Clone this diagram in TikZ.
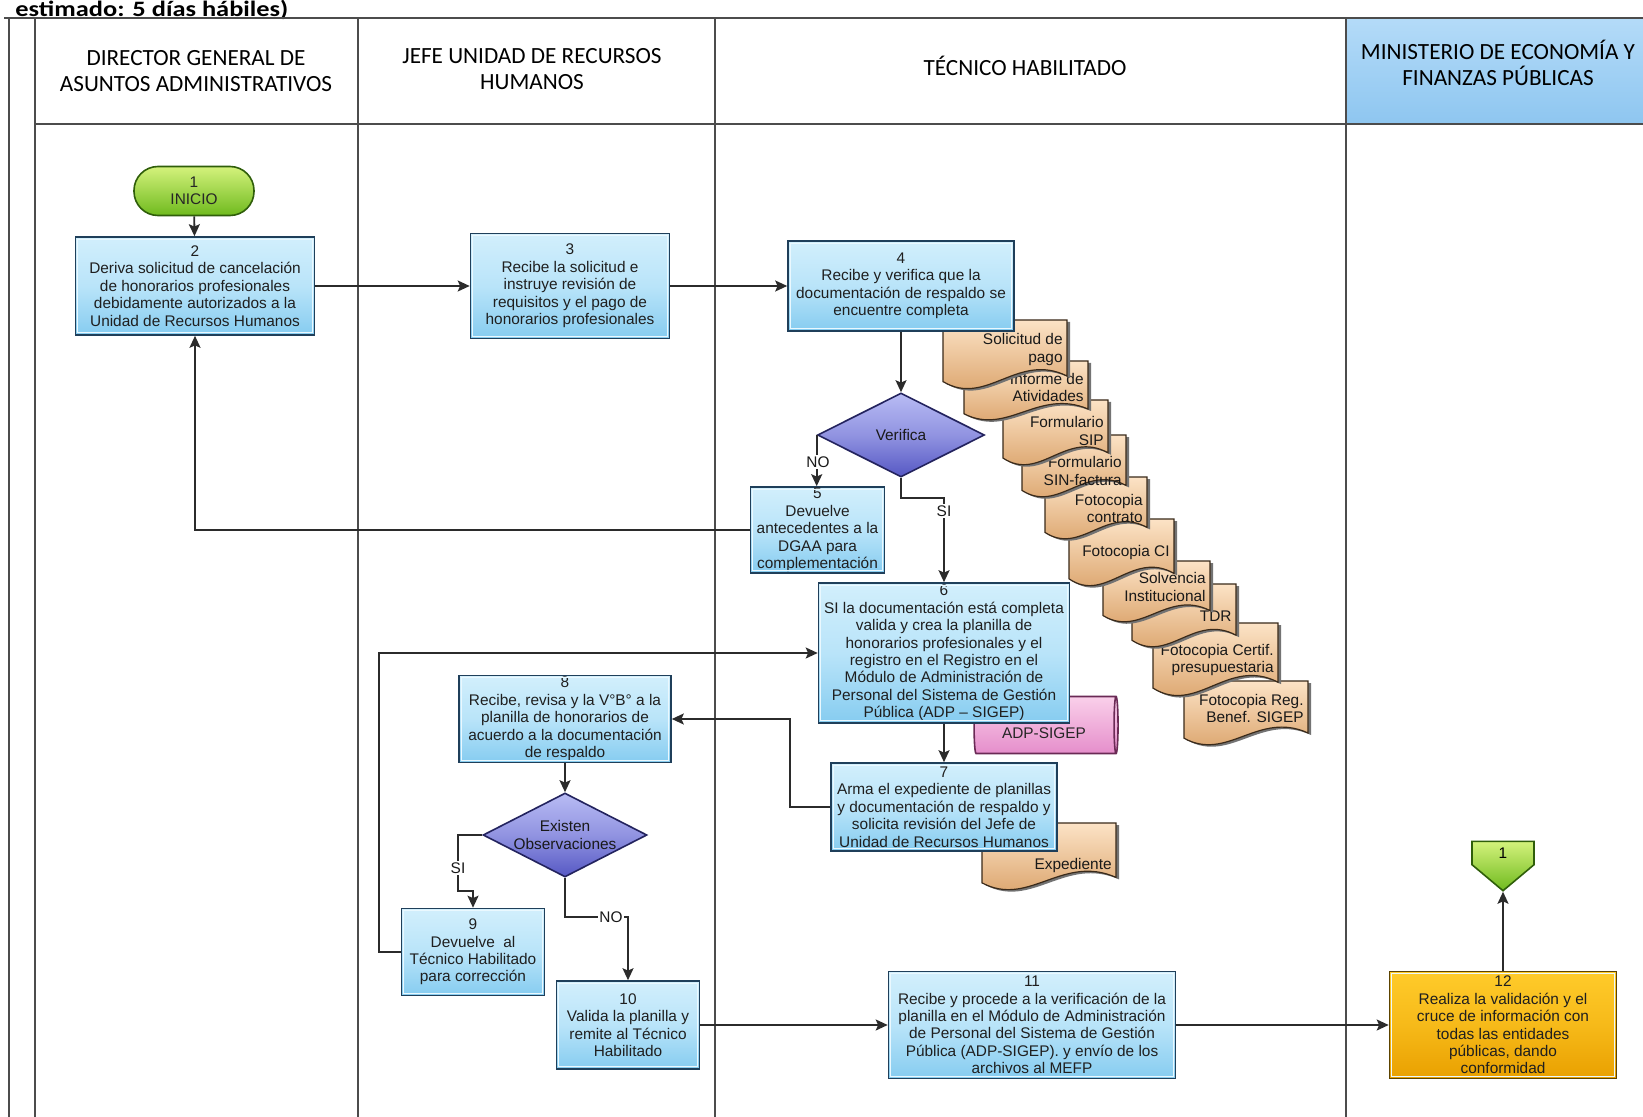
\documentclass[tikz,border=0pt]{standalone}
\usepackage{fontspec}
\setmainfont{Liberation Sans}
\newfontfamily\hdrfont{Carlito}
\newfontfamily\titlefont[FakeStretch=1.2]{Carlito}
\usetikzlibrary{shapes.geometric,shapes.symbols,arrows.meta}

\definecolor{boxtop}{HTML}{D2EFFC}
\definecolor{boxmid}{HTML}{B9E4F9}
\definecolor{boxbot}{HTML}{86CCF0}
\definecolor{boxedge}{HTML}{1F3F5A}
\definecolor{boxhi}{HTML}{EAF8FE}
\definecolor{dectop}{HTML}{B8BBF4}
\definecolor{decbot}{HTML}{5658C4}
\definecolor{decedge}{HTML}{23235E}
\definecolor{grntop}{HTML}{D4F27C}
\definecolor{grnbot}{HTML}{6FBA1E}
\definecolor{grnedge}{HTML}{2F5E0A}
\definecolor{ortop}{HTML}{FFCB2A}
\definecolor{orbot}{HTML}{E9A000}
\definecolor{oredge}{HTML}{5C4300}
\definecolor{doctop}{HTML}{FCE3C6}
\definecolor{docbot}{HTML}{D69A5E}
\definecolor{docedge}{HTML}{3A2A1A}
\definecolor{pinktop}{HTML}{FAD0EA}
\definecolor{pinkbot}{HTML}{E58ECB}
\definecolor{pinkedge}{HTML}{6A2A55}
\definecolor{hdrtop}{HTML}{B4DBF8}
\definecolor{hdrbot}{HTML}{8EC6F0}
\definecolor{lineclr}{HTML}{2B2B2B}

\newcommand\boxfont{\fontsize{7.7}{8.7}\selectfont}

% document sheet with a wavy lower edge:
% name, x1, y1, x2, y2, text, height fraction of the text line
\newcommand\docsheet[7]{%
  \pgfmathsetmacro\dw{#4-#2}\pgfmathsetmacro\dh{#5-#3}%
  \path[docshadow] (#2+3,#3+2) -- (#4+3,#3+2) -- (#4+3,#5-0.2*\dh+2)
    .. controls (#2+0.6*\dw+3,#5-0.55*\dh+2) and (#2+0.35*\dw+3,#5+0.25*\dh+2) ..
    (#2+3,#5-0.12*\dh+2) -- cycle;
  \path[docbody] (#2,#3) -- (#4,#3) -- (#4,#5-0.2*\dh)
    .. controls (#2+0.6*\dw,#5-0.55*\dh) and (#2+0.35*\dw,#5+0.25*\dh) ..
    (#2,#5-0.12*\dh) -- cycle;
  \node[doctext] (#1) at (#4-3,#3+#7*\dh) {#6};
}

\begin{document}
\begin{tikzpicture}[x=0.5pt,y=-0.5pt,
  lane/.style={draw=black!70, line width=0.55pt},
  hdr/.style={align=center, font=\hdrfont\fontsize{11.6}{13}\selectfont, inner sep=0pt},
  proc/.style={rectangle, draw=boxedge, line width=0.8pt, top color=boxtop,
    bottom color=boxbot, middle color=boxmid, align=center, font=\boxfont,
    inner xsep=1pt, inner ysep=0.5pt, text=black!88},
  endproc/.style={proc, top color=ortop, bottom color=orbot, middle color=ortop!60!orbot, draw=oredge},
  decision/.style={diamond, aspect=2, draw=decedge, line width=0.8pt, top color=dectop,
    bottom color=decbot, middle color=dectop!60!decbot, align=center, font=\boxfont,
    inner sep=0pt, text=black!90},
  terminal/.style={rectangle, rounded corners=12pt, draw=grnedge, line width=0.8pt,
    top color=grntop, bottom color=grnbot, align=center, font=\boxfont, inner sep=0pt, text=black!85},
  offpage/.style={signal, signal to=south, signal pointer angle=100, draw=grnedge,
    line width=0.8pt, top color=grntop, bottom color=grnbot, font=\boxfont, inner sep=0pt},
  database/.style={cylinder, shape border rotate=0, aspect=0.3, draw=pinkedge,
    line width=0.8pt, top color=pinktop, bottom color=pinkbot},
  docbody/.style={draw=docedge, line width=0.6pt, top color=doctop, bottom color=docbot},
  docshadow/.style={fill=black!55},
  doctext/.style={anchor=east, align=right, font=\boxfont, inner sep=0.5pt, text=black!90},
  bevel/.style={draw=boxhi, line width=0.5pt},
  arr/.style={draw=lineclr, line width=0.9pt, -{Stealth[length=6pt,width=5.5pt,inset=1.2pt]}},
  lbl/.style={fill=white, inner sep=0.8pt, font=\boxfont, text=black!90}]

\useasboundingbox (0,0) rectangle (1643,1117);
\fill[white] (0,0) rectangle (1643,1117);

% title line above the frame
\node[anchor=base west, inner sep=0pt, font=\titlefont\bfseries\fontsize{11}{13}\selectfont]
  (ttl) at (15,17) {estimado: 5 días hábiles)};

% swimlane grid
\path[top color=hdrtop, bottom color=hdrbot] (1346,18) rectangle (1643,124);
\draw[lane] (4,18) -- (1643,18);
\draw[lane] (9,18) -- (9,1117);
\draw[lane] (35,18) -- (35,1117);
\draw[lane] (35,124) -- (1643,124);
\foreach \x in {358,715,1346} \draw[lane] (\x,18) -- (\x,1117);

\node[hdr] (h1) at (196,71) {DIRECTOR GENERAL DE\\ASUNTOS ADMINISTRATIVOS};
\node[hdr] (h2) at (532,69) {JEFE UNIDAD DE RECURSOS\\HUMANOS};
\node[hdr] (h3) at (1025,66) {TÉCNICO HABILITADO};
\node[hdr] (h4) at (1498,63) {MINISTERIO DE ECONOMÍA Y\\FINANZAS PÚBLICAS};

% supporting documents, the first one lying on top
\docsheet{dJ}{1184}{681}{1308}{746}{Fotocopia Reg.\\Benef. SIGEP}{0.42}
\docsheet{dI}{1153}{623}{1278}{697}{Fotocopia Certif.\\presupuestaria}{0.5}
\docsheet{dH}{1132}{584}{1236}{648}{TDR}{0.5}
\docsheet{dG}{1103}{561}{1210}{623}{Solvencia\\Institucional}{0.42}
\docsheet{dF}{1069}{519}{1174}{587}{Fotocopia CI}{0.5}
\docsheet{dE}{1045}{477}{1147}{540}{Fotocopia\\contrato}{0.5}
\docsheet{dD}{1022}{435}{1126}{498}{Formulario\\SIN-factura}{0.57}
\docsheet{dC}{1003}{400}{1108}{466}{Formulario\\SIP}{0.47}
\docsheet{dB}{964}{361}{1088}{421}{Informe de\\Atividades}{0.44}
\docsheet{dA}{943}{320}{1067}{390}{Solicitud de\\pago}{0.42}
\docsheet{dX}{982}{823}{1116}{891}{Expediente}{0.62}

\node[database, minimum width=28.5pt, minimum height=72pt,
  label={[font=\boxfont, text=black!85, yshift=-4pt]center:ADP-SIGEP}] (db) at (1044,725) {};

% process steps
\node[terminal, minimum width=60pt, minimum height=24.5pt] (ini) at (194,191) {1\\INICIO};
\node[proc, minimum width=119.5pt, minimum height=49pt] (b2) at (195,286)
  {2\\Deriva solicitud de cancelación\\de honorarios profesionales\\debidamente autorizados a la\\Unidad de Recursos Humanos};
\node[proc, minimum width=99.5pt, minimum height=52.5pt] (b3) at (570,286)
  {3\\Recibe la solicitud e\\instruye revisión de\\requisitos y el pago de\\honorarios profesionales};
\node[proc, minimum width=113pt, minimum height=45pt] (b4) at (901,286)
  {4\\Recibe y verifica que la\\documentación de respaldo se\\encuentre completa};
\node[decision, minimum width=83.5pt, minimum height=42pt] (ver) at (901,435) {Verifica};
\node[proc, minimum width=67pt, minimum height=43pt] (b5) at (817.5,530)
  {5\\Devuelve\\antecedentes a la\\DGAA para\\complementación};
\node[proc, minimum width=125.5pt, minimum height=70pt] (b6) at (944,653)
  {6\\SI la documentación está completa\\valida y crea la planilla de\\honorarios profesionales y el\\registro en el Registro en el\\Módulo de Administración de\\Personal del Sistema de Gestión\\Pública (ADP -- SIGEP)};
\node[proc, minimum width=113pt, minimum height=44pt] (b7) at (944,807)
  {7\\Arma el expediente de planillas\\y documentación de respaldo y\\solicita revisión del Jefe de\\Unidad de Recursos Humanos};
\node[proc, minimum width=106pt, minimum height=43.5pt] (b8) at (565,719)
  {8\\Recibe, revisa y la V°B° a la\\planilla de honorarios de\\acuerdo a la documentación\\de respaldo};
\node[decision, minimum width=82pt, minimum height=42pt] (ex) at (565,835) {Existen\\Observaciones};
\node[proc, minimum width=71.5pt, minimum height=43.5pt] (b9) at (473,952)
  {9\\Devuelve~ al\\Técnico Habilitado\\para corrección};
\node[proc, minimum width=71.5pt, minimum height=44pt] (b10) at (628,1025)
  {10\\Valida la planilla y\\remite al Técnico\\Habilitado};
\node[proc, minimum width=143.5pt, minimum height=53.5pt] (b11) at (1032,1025)
  {11\\Recibe y procede a la verificación de la\\planilla en el Módulo de Administración\\de Personal del Sistema de Gestión\\Pública (ADP-SIGEP). y envío de los\\archivos al MEFP};
\node[endproc, minimum width=113.5pt, minimum height=53.5pt] (b12) at (1503,1025)
  {12\\Realiza la validación y el\\cruce de información con\\todas las entidades\\públicas, dando\\conformidad};
\node[offpage, minimum width=31pt, minimum height=13.5pt] (off) at (1503,853) {1};

% raised inner edge of the step boxes
\foreach \n in {b2,b3,b4,b5,b6,b7,b8,b9,b10,b11,b12}
  \draw[bevel] ([shift={(1.6pt,-1.6pt)}]\n.north west) rectangle ([shift={(-1.6pt,1.6pt)}]\n.south east);

% flow
\coordinate (vsi) at (901,498);
\coordinate (exsi) at (458,891);
\coordinate (exno) at (565,917);
\draw[arr] (ini) -- (b2);
\draw[arr] (b2) -- (b3);
\draw[arr] (b3) -- (b4);
\draw[arr] (b4) -- (ver);
\draw[arr] (ver.west) -- (ver.west |- b5.north);
\draw[arr] (ver.south) -- (vsi) -| (b6.north);
\draw[arr] (b5.west) -| (b2.south);
\draw[arr] (b6) -- (b7);
\draw[arr] (b7.west) -- ++(-40,0) |- (b8.east);
\draw[arr] (b8) -- (ex);
\draw[arr] (ex.west) -| (exsi) -| (b9.north);
\draw[arr] (ex.south) -- (exno) -| (b10.north);
\draw[arr] (b9.west) -- ++(-22,0) |- (b6.west);
\draw[arr] (b10) -- (b11);
\draw[arr] (b11) -- (b12);
\draw[arr] (b12) -- (off.south);

\node[lbl] (lno1) at (818,462) {NO};
\node[lbl] (lsi1) at (944,511) {SI};
\node[lbl] (lsi2) at (458,868) {SI};
\node[lbl] (lno2) at (611,917) {NO};
\end{tikzpicture}
\end{document}
